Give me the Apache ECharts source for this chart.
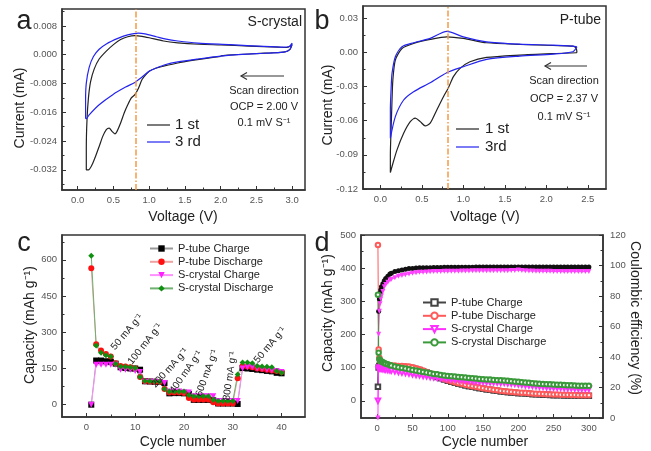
<!DOCTYPE html>
<html>
<head>
<meta charset="utf-8">
<script src="https://cdn.jsdelivr.net/npm/echarts@6/dist/echarts.min.js"></script>
<style>
html,body{margin:0;padding:0;background:#fff}
#main{width:651px;height:451px}
</style>
</head>
<body>
<div id="main"></div>
<script>
var FONT = "'Liberation Sans', Arial, sans-serif";

// ---- panel a : S-crystal CV ----
var aV1 = [2.0,1.8,1.6,1.4,1.2,1.1,1.0,0.95,0.9,0.85,0.8,0.75,0.7,0.65,0.6,0.55,0.52,0.48,0.44,0.4,0.35,0.3,0.25,0.2,0.15,0.12,0.12,0.13,0.15,0.18,0.23,0.3,0.4,0.5,0.6,0.7,0.8,0.9,1.0,1.2,1.4,1.7,2.0,2.4,2.8,2.92,2.98,3.0,2.97,2.9,2.7,2.4,2.1,2.0];
var aI1 = [-0.0005,-0.001,-0.0016,-0.0023,-0.0032,-0.0037,-0.0046,-0.0056,-0.0069,-0.0093,-0.0111,-0.012,-0.0139,-0.0162,-0.019,-0.0213,-0.022,-0.0213,-0.0204,-0.0208,-0.0227,-0.0255,-0.0282,-0.0306,-0.032,-0.032,-0.026,-0.018,-0.012,-0.0075,-0.004,-0.0012,0.001,0.0028,0.0042,0.005,0.0053,0.0051,0.0047,0.0038,0.0033,0.0029,0.0027,0.0024,0.0021,0.002,0.0024,0.0028,0.0015,0.0008,0.0005,0.0002,-0.0001,-0.0003];
var aV3 = [3.0,2.97,2.88,2.6,2.3,2.0,1.68,1.4,1.22,1.1,1.0,0.9,0.8,0.67,0.49,0.3,0.16,0.12,0.11,0.11,0.12,0.16,0.22,0.3,0.4,0.57,0.7,0.85,0.94,1.1,1.22,1.4,1.68,2.14,2.6,2.88,2.96,3.0];
var aI3 = [0.0032,0.0015,0.0007,0.0004,0.0001,-0.0004,-0.0012,-0.002,-0.0028,-0.0037,-0.0046,-0.0062,-0.0077,-0.009,-0.0111,-0.0139,-0.0167,-0.0178,-0.0175,-0.0125,-0.0079,-0.0035,-0.0005,0.0015,0.003,0.0046,0.0055,0.006,0.0058,0.005,0.0044,0.0038,0.0032,0.0028,0.0023,0.0021,0.0023,0.0032];

// ---- panel b : P-tube CV ----
var bV1 = [2.37,2.36,2.08,1.68,1.28,1.08,0.96,0.88,0.82,0.76,0.68,0.6,0.54,0.48,0.42,0.36,0.28,0.2,0.14,0.12,0.12,0.13,0.14,0.15,0.18,0.26,0.4,0.6,0.8,1.0,1.28,1.68,2.08,2.32,2.36,2.37];
var bI1 = [0.0,-0.0003,-0.001,-0.0023,-0.0044,-0.0082,-0.014,-0.0213,-0.031,-0.0389,-0.0505,-0.0622,-0.0646,-0.0608,-0.0578,-0.0608,-0.071,-0.0856,-0.1002,-0.1055,-0.09,-0.065,-0.0418,-0.0242,-0.0067,0.0035,0.0079,0.0114,0.0137,0.0123,0.0085,0.007,0.0061,0.0055,0.0035,0.0];
var bV3 = [2.37,2.32,2.08,1.68,1.28,1.0,0.8,0.6,0.4,0.28,0.18,0.12,0.12,0.13,0.14,0.18,0.26,0.4,0.6,0.8,1.0,1.28,1.68,2.08,2.32,2.37];
var bI3 = [0.005,0.0006,-0.0015,-0.0032,-0.0061,-0.0126,-0.0178,-0.0266,-0.0345,-0.0418,-0.0564,-0.0754,-0.05,-0.03,-0.0184,-0.0038,0.005,0.0085,0.0123,0.0185,0.0137,0.0093,0.0073,0.0064,0.0055,0.005];

// ---- panel c : rate capability ----
var cCycles = [];
for (var i = 1; i <= 40; i++) cCycles.push(i);
var cPtCharge = [0,183,183,180,178,170,155,152,150,150,145,97,96,95,94,90,47,48,48,47,45,20,20,20,20,18,5,5,5,5,3,152,150,148,145,143,140,138,132,130];
var cPtDis = [565,250,225,210,200,172,160,158,155,150,115,97,96,95,94,65,50,50,50,48,28,22,22,22,22,10,5,5,5,5,110,160,158,155,150,148,145,142,140,135];
var cScCharge = [0,165,165,165,165,165,145,145,145,140,135,95,95,95,93,90,55,55,55,52,50,35,35,35,35,35,15,15,15,15,15,150,155,155,150,148,145,142,140,135];
var cScDis = [617,245,215,205,200,170,158,157,155,152,115,98,97,96,95,65,55,55,55,55,40,35,35,35,35,20,15,15,15,15,125,175,175,172,160,158,157,155,140,132];
var cRates = ['50 mA g⁻¹','100 mA g⁻¹','200 mA g⁻¹','400 mA g⁻¹','600 mA g⁻¹','800 mA g⁻¹','50 mA g⁻¹'];

// ---- panel d : cycling ----
var dCycles = [1,2,3,4,5,6,8,10,12,15,18,20,25,30,35,40,45,50,55,60,65,70,75,80,85,90,95,100,105,110,115,120,125,130,135,140,145,150,155,160,165,170,175,180,185,190,195,200,205,210,215,220,225,230,235,240,245,250,255,260,265,270,275,280,285,290,295,300];
var dPtCharge = [42,100,105,107,108,108,108,107,106,105,104,104,103,103,102,102,101,99,96,93,89,85,81,77,72,68,64,60,57,54,51,49,46,44,42,40,38,36,34,33,31,30,28,27,26,25,24,23,22.5,22,21,20,19.5,19,18.5,18,17.5,17,17,16.5,16,16,15.5,15.5,15,15,15,15];
var dPtDis = [470,155,130,122,118,115,112,110,109,108,107,106,106,105,105,104,103,101,98,95,91,87,83,79,74,70,66,62,59,56,53,51,48,46,44,42,40,38,36,35,33,32,30,29,28,27,26,25,24.5,24,23,22,21.5,21,20.5,20,19.5,19,19,18.5,18,18,17.5,17.5,17,17,17,17];
var dScCharge = [0,95,100,99,98,97,96,95,94,93,92,91,89,87,85,84,82,80,78,77,75,74,72,71,69,68,67,66,65,64,63,62,61,60,59,58,57.5,57,56.5,56,55.5,55,54.5,54,53,52,51,50,48.5,47,46,45,44,43,42,41,40.5,40,39.5,39,38.5,38,37.5,37,36.5,36,36,36];
var dScDis = [320,145,125,122,120,118,116,114,112,110,107,106,103,101,99,97,95,93,91,89,87,85,83,81,80,78,76,75,74,73,72,71,70,69,68,67,66,65,64.5,64,63,62,61.5,61,60,59,58,57,56,55,54,53,52,51,50.5,50,49.5,49,48.5,48,47.5,47,46.5,46,45.5,45,45,45];
var dPtCE = [20,70,78,82,84,86,88,90,91.5,93,94.5,95,96,96.5,97,97.5,98,98,98.3,98.5,98.5,98.6,98.6,98.7,98.7,98.7,98.8,98.8,98.8,98.8,98.9,98.9,98.9,98.9,98.9,99,99,99,99,99,99,99,99,99,99,99,99,99,99,99,99,99,99,99,99,99,99,99,99,99,99,99,99,99,99,99,99,99];
var dScCE = [0,55,70,75,78,80,83,86,87.5,89,90.5,91,92,93,93.5,94,94.5,95,95.2,95.5,95.6,95.8,95.9,96,96,96.1,96.2,96.2,96.3,96.3,96.3,96.4,96.4,96.4,96.5,96.5,96.5,96.5,96.5,96.5,96.6,96.6,96.6,96.6,96.6,96.7,96.8,97,96.7,96.5,96.4,96.4,96.3,96.3,96.2,96.2,96.2,96.1,96.1,96,96,96,96,96,96,96,96,96];

var seriesNames = ['P-tube Charge','P-tube Discharge','S-crystal Charge','S-crystal Discharge'];

function zip(a, b) { return a.map(function (v, k) { return [v, b[k]]; }); }
function range(a, b, s) { var r = []; for (var v = a; v <= b + 1e-9; v += s) r.push(+v.toFixed(6)); return r; }

function axes(grid, min, max, major, minor, fmt, pos, labelOpts) {
  var base = { type: 'value', gridIndex: grid, min: min, max: max, position: pos, splitLine: { show: false } };
  var maj = Object.assign({}, base, {
    axisLine: { show: true, onZero: false, lineStyle: { color: '#333', width: 1.5 } },
    axisTick: { show: true, inside: true, length: 4, customValues: major, lineStyle: { color: '#333', width: 1 } },
    axisLabel: Object.assign({ show: true, customValues: major, formatter: fmt, fontSize: 9.5, color: '#555', fontFamily: FONT, margin: 5 }, labelOpts || {})
  });
  var mnr = Object.assign({}, base, {
    axisLine: { show: false, onZero: false },
    axisTick: { show: true, inside: true, length: 2.5, customValues: minor, lineStyle: { color: '#333', width: 1 } },
    axisLabel: { show: false }
  });
  return [maj, mnr];
}
function f(n) { return function (v) { return (+v).toFixed(n); }; }

var xAxis = [].concat(
  axes(0, -0.22, 3.18, range(0, 3, 0.5), range(0.25, 3, 0.5), f(1), 'bottom'),
  axes(1, -0.21, 2.72, range(0, 2.5, 0.5), range(0.25, 2.5, 0.5), f(1), 'bottom'),
  axes(2, -5, 44.8, range(0, 40, 10), range(5, 40, 10), f(0), 'bottom'),
  axes(3, -23, 320, range(0, 300, 50), range(25, 300, 50), f(0), 'bottom')
);
var yAxis = [].concat(
  axes(0, -0.0376, 0.0127, range(-0.032, 0.008, 0.008), range(-0.036, 0.012, 0.008), f(3), 'left'),
  axes(1, -0.12, 0.0408, range(-0.12, 0.03, 0.03), range(-0.105, 0.04, 0.03), f(2), 'left'),
  axes(2, -51, 703, range(0, 600, 150), range(75, 700, 150), f(0), 'left'),
  axes(3, -52, 500, range(0, 500, 100), range(50, 450, 100), f(0), 'left'),
  axes(3, 0, 120, range(0, 120, 20), range(10, 110, 20), f(0), 'right', { margin: 7 })
);

var grid = [
  { left: 62, top: 9, width: 243, height: 181 },
  { left: 363, top: 6, width: 243, height: 183 },
  { left: 62, top: 235, width: 243, height: 182 },
  { left: 361, top: 235, width: 242, height: 183 }
].map(function (g) {
  return Object.assign({ show: true, borderColor: '#333', borderWidth: 1.5, backgroundColor: 'transparent', outerBoundsMode: 'none' }, g);
});

var vline = function (x) {
  return { symbol: 'none', silent: true, label: { show: false }, emphasis: { disabled: true },
    lineStyle: { color: '#f39a45', type: [6, 2, 1.5, 2], width: 1.5, opacity: 1 }, data: [{ xAxis: x }] };
};
function cv(name, xi, yi, data, color, ml) {
  var s = { name: name, type: 'line', xAxisIndex: xi, yAxisIndex: yi, data: data, showSymbol: false,
    smooth: 0.25, lineStyle: { color: color, width: 1.2 }, itemStyle: { color: color }, z: 3 };
  if (ml) s.markLine = ml;
  return s;
}
function rate(name, data, color, line, symbol) {
  return { name: name, type: 'line', xAxisIndex: 4, yAxisIndex: 4, data: zip(cCycles, data),
    symbol: symbol, symbolSize: 6, lineStyle: { color: line, width: 1 }, itemStyle: { color: color } };
}
function cyc(name, data, color, symbol, yi, size) {
  return { name: name, type: 'line', xAxisIndex: 6, yAxisIndex: yi, data: zip(dCycles, data),
    symbol: symbol, symbolSize: size || 5, lineStyle: { color: color, width: 1 }, itemStyle: { color: color, borderWidth: 1 } };
}

var series = [
  cv('a1', 0, 0, zip(aV1, aI1), '#222', vline(0.81)),
  cv('a3', 0, 0, zip(aV3, aI3), '#2424f0'),
  cv('b1', 2, 2, zip(bV1, bI1), '#222', vline(0.81)),
  cv('b3', 2, 2, zip(bV3, bI3), '#2424f0'),
  rate(seriesNames[0], cPtCharge, '#000', '#999', 'rect'),
  rate(seriesNames[1], cPtDis, '#ff1010', '#f0a0a0', 'circle'),
  rate(seriesNames[2], cScCharge, '#ff20ff', '#ff90ff', 'triangle'),
  rate(seriesNames[3], cScDis, '#109010', '#70b070', 'diamond'),
  cyc('P-tube CE', dPtCE, '#111', 'circle', 8, 5),
  cyc('S-crystal CE', dScCE, '#ff40ff', 'triangle', 8, 5),
  cyc(seriesNames[0] + ' ', dPtCharge, '#444', 'emptyRect', 6, 4.5),
  cyc(seriesNames[1] + ' ', dPtDis, '#ff5a5a', 'emptyCircle', 6, 4.5),
  cyc(seriesNames[2] + ' ', dScCharge, '#ff30ff', 'emptyTriangle', 6, 4.5),
  cyc(seriesNames[3] + ' ', dScDis, '#3a9a3a', 'emptyCircle', 6, 4.5)
];
// charge series use down-pointing triangles
series.forEach(function (s) { if (/triangle/i.test(s.symbol)) s.symbolRotate = 180; });

function txt(x, y, text, size, o) {
  o = o || {};
  return { type: 'text', x: x, y: y, rotation: o.rot || 0, silent: true, z: 10,
    style: { text: text, fontSize: size, fontFamily: FONT, fill: o.fill || '#222', fontWeight: o.weight || 'normal',
      align: o.align || 'center', textAlign: o.align || 'center', verticalAlign: 'middle', textVerticalAlign: 'middle' } };
}
function seg(x1, y1, x2, y2, color, w) {
  return { type: 'line', silent: true, z: 10, shape: { x1: x1, y1: y1, x2: x2, y2: y2 }, style: { stroke: color, lineWidth: w || 1.2 } };
}
function arrow(x1, x2, y) {
  return [seg(x1, y, x2, y, '#333', 1.2),
    { type: 'polyline', silent: true, z: 10, shape: { points: [[x2 + 6, y - 3.5], [x2, y], [x2 + 6, y + 3.5]] }, style: { stroke: '#333', fill: null, lineWidth: 1.2 } }];
}
var R = Math.PI / 180;
var graphic = [
  txt(24, 22, 'a', 27), txt(322, 22, 'b', 27), txt(24, 244, 'c', 27), txt(322, 244, 'd', 27),
  txt(20, 108, 'Current (mA)', 14, { rot: 90 * R }), txt(183, 217, 'Voltage (V)', 14),
  txt(328, 105, 'Current (mA)', 14, { rot: 90 * R }), txt(485, 217, 'Voltage (V)', 14),
  txt(30, 325, 'Capacity (mAh g⁻¹)', 14, { rot: 90 * R }), txt(183, 442, 'Cycle number', 14),
  txt(328, 313, 'Capacity (mAh g⁻¹)', 14, { rot: 90 * R }), txt(485, 442, 'Cycle number', 14),
  txt(635, 318, 'Coulombic efficiency (%)', 14, { rot: -90 * R }),
  txt(302, 22, 'S-crystal', 14, { align: 'right' }), txt(601, 20, 'P-tube', 14, { align: 'right' }),
  txt(264, 91, 'Scan direction', 11), txt(264, 107, 'OCP = 2.00 V', 11), txt(264, 123, '0.1 mV S⁻¹', 11),
  txt(564, 81, 'Scan direction', 11), txt(564, 99, 'OCP = 2.37 V', 11), txt(564, 117, '0.1 mV S⁻¹', 11),
  seg(147, 125, 170, 125, '#222'), seg(147, 142, 170, 142, '#2424f0'),
  txt(175, 125, '1 st', 15, { align: 'left' }), txt(175, 142, '3 rd', 15, { align: 'left' }),
  seg(456, 129, 479, 129, '#222'), seg(456, 147, 479, 147, '#2424f0'),
  txt(485, 129, '1 st', 15, { align: 'left' }), txt(485, 147, '3rd', 15, { align: 'left' }),
  txt(127, 332, cRates[0], 10, { rot: 50 * R }),
  txt(145, 344, cRates[1], 10, { rot: 52 * R }),
  txt(170, 368, cRates[2], 10, { rot: 48 * R }),
  txt(186, 372, cRates[3], 10, { rot: 55 * R }),
  txt(207, 373, cRates[4], 10, { rot: 70 * R }),
  txt(230, 376, cRates[5], 10, { rot: 82 * R }),
  txt(270, 345, cRates[6], 10, { rot: 50 * R })
].concat(arrow(284, 241, 76), arrow(587, 545, 66));

var legendBase = { orient: 'vertical', itemWidth: 23, itemHeight: 8, itemGap: 2.3, selectedMode: false,
  padding: 0, textStyle: { fontSize: 11, color: '#222', fontFamily: FONT } };

var chart = echarts.init(document.getElementById('main'), null, { renderer: 'canvas' });
chart.setOption({
  animation: false,
  backgroundColor: '#fff',
  textStyle: { fontFamily: FONT },
  grid: grid,
  xAxis: xAxis,
  yAxis: yAxis,
  legend: [
    Object.assign({}, legendBase, { left: 149, top: 243, data: seriesNames }),
    Object.assign({}, legendBase, { left: 422, top: 297, data: seriesNames.map(function (n) { return n + ' '; }),
      formatter: function (n) { return n.trim(); } })
  ],
  series: series,
  graphic: graphic
});
</script>
</body>
</html>
